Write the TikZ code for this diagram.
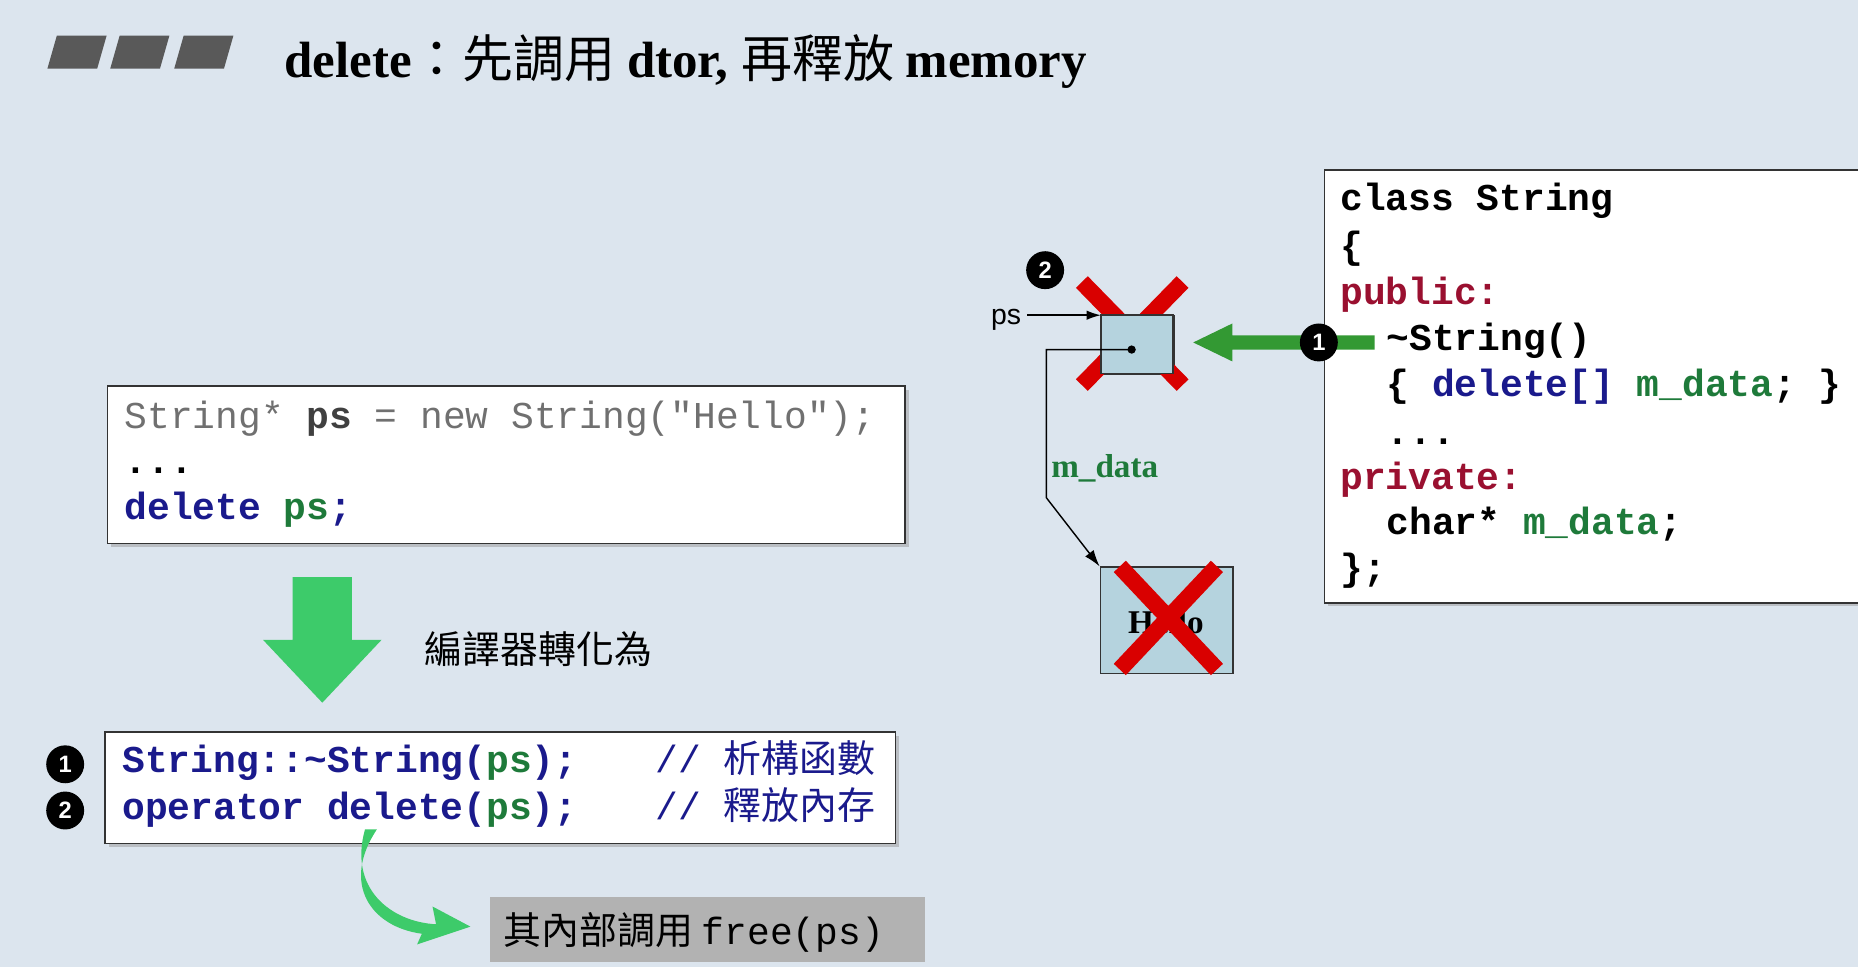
\documentclass[tikz,border=0pt]{standalone}
\usepackage{fontspec}
\setmainfont{Liberation Serif}
\setmonofont{Liberation Mono}
\newfontfamily\cjk{Noto Sans CJK TC}
\newfontfamily\sans{Liberation Sans}
\usetikzlibrary{arrows.meta,shadows}
\definecolor{kw}{HTML}{1A1A8C}
\definecolor{idg}{HTML}{1E7A3A}
\definecolor{kred}{HTML}{9A1030}
\definecolor{gtxt}{HTML}{707070}
\definecolor{bg}{HTML}{DCE5EE}
\definecolor{garrow}{HTML}{3DCB6A}
\definecolor{cellb}{HTML}{B5D3DE}
\tikzset{
 codebox/.style={draw=black!80,line width=1.5pt,fill=white,drop shadow={shadow xshift=3pt,shadow yshift=-3pt,fill=black!40}},
 code/.style={anchor=base west,inner sep=0,font=\fontsize{32}{32}\selectfont\ttfamily\bfseries},
 bullet/.style={circle,fill=black,text=white,inner sep=0,minimum size=32pt,font=\fontsize{20}{20}\selectfont\sans\bfseries},
 redx/.style={red!85!black,line width=14pt},
}
\begin{document}
\begin{tikzpicture}[x=1pt,y=-1pt]
\fill[bg] (0,0) rectangle (1568,816);
\useasboundingbox (0,0) rectangle (1568,816);
% title
\foreach \a in {40,93,147}{\fill[black!65] (\a+8,30) -- (\a+50,30) -- (\a+42,58) -- (\a,58) -- cycle;}
\node[anchor=base west,inner sep=0] (title) at (240,65) {\fontsize{43}{43}\selectfont\bfseries delete\cjk\mdseries：先調用 \rmfamily\bfseries dtor, \cjk\mdseries 再釋放 \rmfamily\bfseries memory};
% box1
\node[codebox,minimum width=673pt,minimum height=133pt,anchor=north west] (b1) at (90,325) {};
\node[code,text=gtxt] (l1) at (105,362) {\mdseries String* \textcolor{black!75}{\bfseries ps} = new String("Hello");};
\node[code,text=black] (l2) at (105,400) {...};
\node[code,text=kw] (l3) at (105,438) {delete \textcolor{idg}{ps};};
% down arrow
\fill[garrow] (247,487) -- (297,487) -- (297,540) -- (322,540) -- (272,593) -- (222,540) -- (247,540) -- cycle;
\node[anchor=base west,inner sep=0] (conv) at (358,560) {\fontsize{32}{32}\selectfont\cjk 編譯器轉化為};
% box2
\node[codebox,minimum width=667pt,minimum height=94pt,anchor=north west] (b2) at (88,617) {};
\node[code,text=kw] (m1) at (103,652) {String::\textasciitilde String(\textcolor{idg}{ps});};
\node[code,text=kw] (m2) at (103,692) {operator delete(\textcolor{idg}{ps});};
\node[code,text=kw] (c1) at (553,652) {\mdseries// {\cjk 析構函數}};
\node[code,text=kw] (c2) at (553,692) {\mdseries// {\cjk 釋放內存}};
\node[bullet] (n1) at (55,645) {1};
\node[bullet] (n2) at (55,684) {2};
% curved arrow
\node[fill=black!30,minimum width=367pt,minimum height=55pt,anchor=north west,inner sep=0] (free) at (413,757) {};
\node[anchor=base west,inner sep=0] (freet) at (425,797) {\fontsize{32}{32}\selectfont\cjk 其內部調用 \ttfamily free(ps)};
\fill[garrow] (308,700) .. controls (294,750) and (330,778) .. (368,780) -- (365,765) -- (397,782) -- (352,797) -- (356,788) .. controls (312,782) and (288,745) .. (318,700) -- cycle;
% right box
\node[codebox,minimum width=460pt,minimum height=365pt,anchor=north west] (b3) at (1117,143) {};
\node[code] (r1) at (1131,178) {class String};
\node[code] (r2) at (1131,218) {\{};
\node[code,text=kred] (r3) at (1131,257) {public:};
\node[code] (r4) at (1170,296) {\textasciitilde String()};
\node[code] (r5) at (1170,335) {\{ \textcolor{kw}{delete[]} \textcolor{idg}{m\_data}; \}};
\node[code] (r6) at (1170,375) {...};
\node[code,text=kred] (r7) at (1131,413) {private:};
\node[code] (r8) at (1170,451) {char* \textcolor{idg}{m\_data};};
\node[code] (r9) at (1131,490) {\};};
% cells
\node[draw=black!80,fill=cellb,line width=1.2pt,minimum width=61pt,minimum height=49pt,anchor=north west,inner sep=0] (cell) at (929,266) {};
\coordinate (dot) at (955,295);
\draw[redx] (913,238) -- (998,325) (998,238) -- (913,325);
\fill[cellb,draw=black!80,line width=1.2pt] (929,266) rectangle (990,315);
\fill (dot) circle (3.5pt);
\node[anchor=base east,inner sep=0] (ps) at (862,274) {\fontsize{24}{24}\selectfont\sans ps};
\coordinate (pse) at (867,266);
\draw[-{Latex[length=12pt,width=8pt]},line width=1.2pt] (pse) -- (cell.north west);
\node[bullet] (n2b) at (882,228) {2};
\node[draw=black!80,fill=cellb,line width=1.2pt,minimum width=112pt,minimum height=90pt,anchor=north west,inner sep=0] (hello) at (928,478) {};
\node[inner sep=0] (ht) at (984,525) {\fontsize{28}{28}\selectfont\bfseries Hello};
\draw[redx] (945,478) -- (1027,565) (1027,478) -- (945,565);
\coordinate (k1) at (883,295);
\coordinate (k2) at (883,420);
\draw[line width=1.2pt,-{Latex[length=14pt,width=9pt]}] (dot) -- (k1) -- (k2) -- (hello.north west);
\node[anchor=base west,inner sep=0,text=idg] (md) at (887,403) {\fontsize{28}{28}\selectfont\bfseries m\_data};
% green arrow to cell
\fill[green!50!black!80] (1160,283) -- (1040,283) -- (1040,273) -- (1007,289) -- (1040,305) -- (1040,295) -- (1160,295) -- cycle;
\node[bullet] (n1b) at (1113,289) {1};
\end{tikzpicture}
\end{document}
